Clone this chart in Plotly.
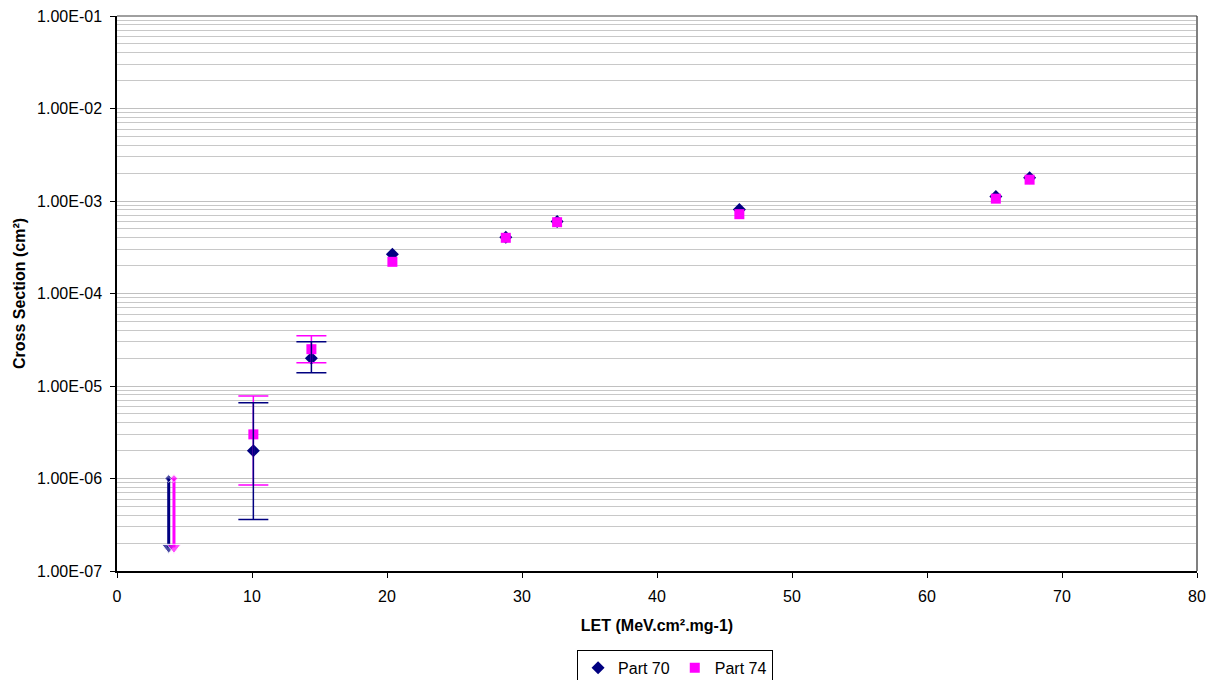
import plotly.graph_objects as go

# Part 70 data
p70_x = [10.1, 14.4, 20.4, 28.8, 32.6, 46.1, 65.1, 67.6]
p70_y = [2.0e-6, 2.0e-5, 2.65e-4, 4.05e-4, 6.0e-4, 8.1e-4, 1.12e-3, 1.78e-3]
p70_err_hi = [6.6e-6, 3.0e-5, None, None, None, None, None, None]
p70_err_lo = [3.6e-7, 1.39e-5, None, None, None, None, None, None]
# Part 70 upper-limit arrow
p70_lim_x = 3.83
p70_lim_top = 1.0e-6
p70_lim_bottom = 1.8e-7

# Part 74 data
p74_x = [10.1, 14.4, 20.4, 28.8, 32.6, 46.1, 65.1, 67.6]
p74_y = [3.0e-6, 2.5e-5, 2.2e-4, 4.0e-4, 5.9e-4, 7.2e-4, 1.06e-3, 1.7e-3]
p74_err_hi = [7.8e-6, 3.5e-5, None, None, None, None, None, None]
p74_err_lo = [8.5e-7, 1.78e-5, None, None, None, None, None, None]
p74_lim_x = 4.22
p74_lim_top = 1.0e-6
p74_lim_bottom = 1.8e-7

y_tickvals = [1e-7, 1e-6, 1e-5, 1e-4, 1e-3, 1e-2, 1e-1]
y_ticktext = ["1.00E-07", "1.00E-06", "1.00E-05", "1.00E-04", "1.00E-03", "1.00E-02", "1.00E-01"]

NAVY = "#000080"
MAG = "#FF00FF"
FONT = "Liberation Sans, Arial, sans-serif"

fig = go.Figure()

# upper-limit arrows
for lx, top, bot, col in [(p70_lim_x, p70_lim_top, p70_lim_bottom, NAVY),
                          (p74_lim_x, p74_lim_top, p74_lim_bottom, MAG)]:
    fig.add_trace(go.Scatter(
        x=[lx, lx], y=[top, bot], mode="lines+markers",
        line=dict(color=col, width=3),
        marker=dict(symbol=["diamond", "triangle-down"], size=[6, 12], color=col),
        showlegend=False, hoverinfo="skip"))

# main markers
fig.add_trace(go.Scatter(
    x=p70_x, y=p70_y, mode="markers", name="Part 70",
    marker=dict(symbol="diamond", size=10, color=NAVY)))
fig.add_trace(go.Scatter(
    x=p74_x, y=p74_y, mode="markers", name="Part 74",
    marker=dict(symbol="square", size=10, color=MAG)))

# error bars (only where present), drawn on top
for xs, ys, hi, lo, col in [(p74_x, p74_y, p74_err_hi, p74_err_lo, MAG),
                            (p70_x, p70_y, p70_err_hi, p70_err_lo, NAVY)]:
    ex, ey, ep, em = [], [], [], []
    for x, y, h, l in zip(xs, ys, hi, lo):
        if h is not None:
            ex.append(x)
            ey.append(y)
            ep.append(h - y)
            em.append(y - l)
    fig.add_trace(go.Scatter(
        x=ex, y=ey, mode="markers", marker=dict(size=1, opacity=0, color=col),
        showlegend=False, hoverinfo="skip",
        error_y=dict(type="data", symmetric=False, array=ep, arrayminus=em,
                     color=col, thickness=1.5, width=15)))

fig.update_layout(
    width=1213, height=680,
    margin=dict(l=117, r=16, t=16, b=109, autoexpand=False),
    paper_bgcolor="white", plot_bgcolor="white",
    font=dict(family=FONT, size=16, color="black"),
    showlegend=True,
    legend=dict(orientation="h", x=0.426, xanchor="left", y=-0.142, yanchor="top",
                bordercolor="black", borderwidth=1, font=dict(size=16),
                itemwidth=30, tracegroupgap=0),
    shapes=[dict(type="line", xref="paper", yref="paper", x0=1, x1=1, y0=0, y1=1,
                 line=dict(color="#808080", width=2)),
            dict(type="line", xref="paper", yref="paper", x0=0, x1=1, y0=1, y1=1,
                 line=dict(color="#404040", width=1))],
)

fig.update_xaxes(
    range=[0, 80], dtick=10, tick0=0,
    showgrid=False, zeroline=False,
    showline=True, linecolor="black", linewidth=1.5,
    ticks="outside", ticklen=5, tickcolor="black",
    tickfont=dict(size=16), ticklabelstandoff=5,
    title=dict(text="<b>LET (MeV.cm².mg-1)</b>", font=dict(size=16), standoff=16),
)
fig.update_yaxes(
    type="log", range=[-7, -1],
    tickvals=y_tickvals, ticktext=y_ticktext,
    showgrid=True, gridcolor="#c0c0c0", gridwidth=1,
    minor=dict(dtick="D1", showgrid=True, gridcolor="#c8c8c8", gridwidth=1, ticks=""),
    zeroline=False,
    showline=True, linecolor="black", linewidth=1.5,
    ticks="outside", ticklen=5, tickcolor="black",
    tickfont=dict(size=16), ticklabelstandoff=5,
    title=dict(text="<b>Cross Section (cm²)</b>", font=dict(size=16), standoff=8),
)

fig.write_html("out.html")
